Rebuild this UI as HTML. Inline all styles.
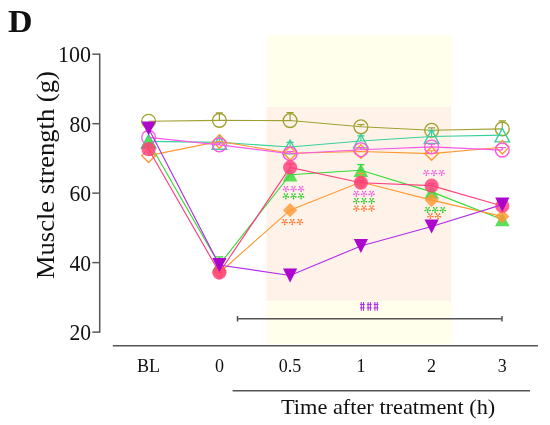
<!DOCTYPE html>
<html><head><meta charset="utf-8"><style>
html,body{margin:0;padding:0;background:#fff;width:550px;height:425px;overflow:hidden}
svg{display:block;will-change:transform}
text{font-family:"Liberation Serif",serif;fill:#111}
.tl{font-size:23.5px}
.xl{font-size:18px}
.xt{font-size:21.5px}
.yt{font-size:25px}
.D{font-size:30.6px;font-weight:bold}
</style></head><body>
<svg width="550" height="425" viewBox="0 0 550 425">
<rect x="266.5" y="35" width="184.9" height="308.8" fill="#FFFFEB"/>
<rect x="266.5" y="107" width="184.5" height="193.8" fill="#FFF3E9"/>
<path d="M99.7,53.5V332.8" stroke="#555555" stroke-width="1.5" fill="none"/>
<path d="M92.3,54.20H99.7" stroke="#555555" stroke-width="1.45"/>
<text x="91" y="62.30" text-anchor="end" class="tl" textLength="33.0" lengthAdjust="spacingAndGlyphs">100</text>
<path d="M92.3,123.68H99.7" stroke="#555555" stroke-width="1.45"/>
<text x="91" y="131.78" text-anchor="end" class="tl" textLength="21.6" lengthAdjust="spacingAndGlyphs">80</text>
<path d="M92.3,193.15H99.7" stroke="#555555" stroke-width="1.45"/>
<text x="91" y="201.25" text-anchor="end" class="tl" textLength="21.6" lengthAdjust="spacingAndGlyphs">60</text>
<path d="M92.3,262.63H99.7" stroke="#555555" stroke-width="1.45"/>
<text x="91" y="270.73" text-anchor="end" class="tl" textLength="21.6" lengthAdjust="spacingAndGlyphs">40</text>
<path d="M92.3,332.10H99.7" stroke="#555555" stroke-width="1.45"/>
<text x="91" y="340.20" text-anchor="end" class="tl" textLength="21.6" lengthAdjust="spacingAndGlyphs">20</text>
<path d="M112.8,345.8H538" stroke="#555555" stroke-width="1.6"/>
<path d="M232.6,390.8H530" stroke="#555555" stroke-width="1.6"/>
<text x="148.60" y="371.8" text-anchor="middle" class="xl">BL</text>
<text x="219.40" y="371.8" text-anchor="middle" class="xl">0</text>
<text x="290.10" y="371.8" text-anchor="middle" class="xl">0.5</text>
<text x="360.90" y="371.8" text-anchor="middle" class="xl">1</text>
<text x="431.60" y="371.8" text-anchor="middle" class="xl">2</text>
<text x="502.30" y="371.8" text-anchor="middle" class="xl">3</text>
<text x="281" y="414.1" class="xt" textLength="214.3" lengthAdjust="spacingAndGlyphs">Time after treatment (h)</text>
<text transform="translate(54,279) rotate(-90)" class="yt" textLength="207.8" lengthAdjust="spacingAndGlyphs">Muscle strength (g)</text>
<text transform="translate(7.9,31.7) scale(1.11,1)" class="D">D</text>
<path d="M237.5,318.7H502M237.5,315.9V321.6M502,315.9V321.6" stroke="#555" stroke-width="1.5" fill="none"/>
<path d="M361.25,302V310.8M363.55,302V310.8M360.05,304.40H364.75M359.95,307.90H364.65M368.10,302V310.8M370.40,302V310.8M366.90,304.40H371.60M366.80,307.90H371.50M374.95,302V310.8M377.25,302V310.8M373.75,304.40H378.45M373.65,307.90H378.35" stroke="#A820EE" stroke-width="1.0" fill="none"/>
<g><path d="M148.60,121.24 L219.40,120.37 L290.10,120.55 L360.90,126.80 L431.60,130.28 L502.30,128.89" stroke="#A0A032" stroke-width="1.15" fill="none"/><path d="M219.40,120.37V112.73M215.80,112.73H223.00" stroke="#A0A032" stroke-width="1.2" fill="none"/><path d="M290.10,120.55V112.56M286.50,112.56H293.70" stroke="#A0A032" stroke-width="1.2" fill="none"/><path d="M360.90,126.80V124.72M357.30,124.72H364.50" stroke="#A0A032" stroke-width="1.2" fill="none"/><path d="M431.60,130.28V127.84M428.00,127.84H435.20" stroke="#A0A032" stroke-width="1.2" fill="none"/><path d="M502.30,128.89V120.90M498.70,120.90H505.90" stroke="#A0A032" stroke-width="1.2" fill="none"/><circle cx="148.60" cy="121.24" r="6.9" fill="none" stroke="#A0A032" stroke-width="1.35"/><circle cx="219.40" cy="120.37" r="6.9" fill="none" stroke="#A0A032" stroke-width="1.35"/><circle cx="290.10" cy="120.55" r="6.9" fill="none" stroke="#A0A032" stroke-width="1.35"/><circle cx="360.90" cy="126.80" r="6.9" fill="none" stroke="#A0A032" stroke-width="1.35"/><circle cx="431.60" cy="130.28" r="6.9" fill="none" stroke="#A0A032" stroke-width="1.35"/><circle cx="502.30" cy="128.89" r="6.9" fill="none" stroke="#A0A032" stroke-width="1.35"/></g>
<g><path d="M148.60,141.39 L219.40,142.43 L290.10,146.95 L360.90,141.04 L431.60,136.53 L502.30,135.14" stroke="#38D09C" stroke-width="1.15" fill="none"/><path d="M219.40,142.43V138.96M215.80,138.96H223.00" stroke="#38D09C" stroke-width="1.2" fill="none"/><path d="M290.10,146.95V142.43M286.50,142.43H293.70" stroke="#38D09C" stroke-width="1.2" fill="none"/><path d="M360.90,141.04V135.83M357.30,135.83H364.50" stroke="#38D09C" stroke-width="1.2" fill="none"/><path d="M431.60,136.53V130.97M428.00,130.97H435.20" stroke="#38D09C" stroke-width="1.2" fill="none"/><polygon points="148.60,134.59 155.90,148.19 141.30,148.19" fill="none" stroke="#38D09C" stroke-width="1.35" stroke-linejoin="miter"/><polygon points="219.40,135.63 226.70,149.23 212.10,149.23" fill="none" stroke="#38D09C" stroke-width="1.35" stroke-linejoin="miter"/><polygon points="290.10,140.15 297.40,153.75 282.80,153.75" fill="none" stroke="#38D09C" stroke-width="1.35" stroke-linejoin="miter"/><polygon points="360.90,134.24 368.20,147.84 353.60,147.84" fill="none" stroke="#38D09C" stroke-width="1.35" stroke-linejoin="miter"/><polygon points="431.60,129.73 438.90,143.33 424.30,143.33" fill="none" stroke="#38D09C" stroke-width="1.35" stroke-linejoin="miter"/><polygon points="502.30,128.34 509.60,141.94 495.00,141.94" fill="none" stroke="#38D09C" stroke-width="1.35" stroke-linejoin="miter"/></g>
<g><path d="M148.60,155.63 L219.40,141.39 L290.10,153.20 L360.90,151.47 L431.60,153.55 L502.30,147.30" stroke="#FF9933" stroke-width="1.15" fill="none"/><path d="M148.60,155.63V148.69M145.00,148.69H152.20" stroke="#FF9933" stroke-width="1.2" fill="none"/><path d="M431.60,153.55V150.77M428.00,150.77H435.20" stroke="#FF9933" stroke-width="1.2" fill="none"/><polygon points="148.60,148.83 155.40,155.63 148.60,162.43 141.80,155.63" fill="none" stroke="#FF9933" stroke-width="1.35" stroke-linejoin="miter"/><polygon points="219.40,134.59 226.20,141.39 219.40,148.19 212.60,141.39" fill="none" stroke="#FF9933" stroke-width="1.35" stroke-linejoin="miter"/><polygon points="290.10,146.40 296.90,153.20 290.10,160.00 283.30,153.20" fill="none" stroke="#FF9933" stroke-width="1.35" stroke-linejoin="miter"/><polygon points="360.90,144.67 367.70,151.47 360.90,158.27 354.10,151.47" fill="none" stroke="#FF9933" stroke-width="1.35" stroke-linejoin="miter"/><polygon points="431.60,146.75 438.40,153.55 431.60,160.35 424.80,153.55" fill="none" stroke="#FF9933" stroke-width="1.35" stroke-linejoin="miter"/><polygon points="502.30,140.50 509.10,147.30 502.30,154.10 495.50,147.30" fill="none" stroke="#FF9933" stroke-width="1.35" stroke-linejoin="miter"/></g>
<g><path d="M148.60,137.40 L219.40,144.86 L290.10,153.72 L360.90,149.73 L431.60,146.95 L502.30,150.08" stroke="#FA58E6" stroke-width="1.15" fill="none"/><path d="M219.40,144.86V143.13M215.80,143.13H223.00" stroke="#FA58E6" stroke-width="1.2" fill="none"/><path d="M290.10,153.72V151.64M286.50,151.64H293.70" stroke="#FA58E6" stroke-width="1.2" fill="none"/><path d="M360.90,149.73V147.64M357.30,147.64H364.50" stroke="#FA58E6" stroke-width="1.2" fill="none"/><path d="M431.60,146.95V144.17M428.00,144.17H435.20" stroke="#FA58E6" stroke-width="1.2" fill="none"/><path d="M502.30,150.08V147.64M498.70,147.64H505.90" stroke="#FA58E6" stroke-width="1.2" fill="none"/><circle cx="148.60" cy="137.40" r="6.9" fill="none" stroke="#FA58E6" stroke-width="1.35"/><circle cx="219.40" cy="144.86" r="6.9" fill="none" stroke="#FA58E6" stroke-width="1.35"/><circle cx="290.10" cy="153.72" r="6.9" fill="none" stroke="#FA58E6" stroke-width="1.35"/><circle cx="360.90" cy="149.73" r="6.9" fill="none" stroke="#FA58E6" stroke-width="1.35"/><circle cx="431.60" cy="146.95" r="6.9" fill="none" stroke="#FA58E6" stroke-width="1.35"/><circle cx="502.30" cy="150.08" r="6.9" fill="none" stroke="#FA58E6" stroke-width="1.35"/></g>
<g><path d="M148.60,141.74 L219.40,264.71 L290.10,174.74 L360.90,170.22 L431.60,191.86 L502.30,219.55" stroke="#38D838" stroke-width="1.15" fill="none"/><path d="M219.40,264.71V256.89M215.80,256.89H223.00" stroke="#38D838" stroke-width="1.2" fill="none"/><path d="M360.90,170.22V164.67M357.30,164.67H364.50" stroke="#38D838" stroke-width="1.2" fill="none"/><polygon points="148.60,134.94 155.90,148.54 141.30,148.54" fill="#38D838" fill-opacity="0.82"/><polygon points="219.40,257.91 226.70,271.51 212.10,271.51" fill="#38D838" fill-opacity="0.82"/><polygon points="290.10,167.94 297.40,181.54 282.80,181.54" fill="#38D838" fill-opacity="0.82"/><polygon points="360.90,163.42 368.20,177.02 353.60,177.02" fill="#38D838" fill-opacity="0.82"/><polygon points="431.60,185.06 438.90,198.66 424.30,198.66" fill="#38D838" fill-opacity="0.82"/><polygon points="502.30,212.75 509.60,226.35 495.00,226.35" fill="#38D838" fill-opacity="0.82"/></g>
<g><path d="M219.40,272.70 L290.10,210.17 L360.90,182.03 L431.60,200.10 L502.30,216.42" stroke="#FF9933" stroke-width="1.15" fill="none"/><path d="M360.90,182.03V173.35M357.30,173.35H364.50" stroke="#FF9933" stroke-width="1.2" fill="none"/><polygon points="219.40,265.60 226.50,272.70 219.40,279.80 212.30,272.70" fill="#FF9933" fill-opacity="0.82"/><polygon points="290.10,203.07 297.20,210.17 290.10,217.27 283.00,210.17" fill="#FF9933" fill-opacity="0.82"/><polygon points="360.90,174.93 368.00,182.03 360.90,189.13 353.80,182.03" fill="#FF9933" fill-opacity="0.82"/><polygon points="431.60,193.00 438.70,200.10 431.60,207.20 424.50,200.10" fill="#FF9933" fill-opacity="0.82"/><polygon points="502.30,209.32 509.40,216.42 502.30,223.52 495.20,216.42" fill="#FF9933" fill-opacity="0.82"/></g>
<g><path d="M148.60,149.21 L219.40,272.53 L290.10,167.44 L360.90,182.73 L431.60,185.68 L502.30,206.00" stroke="#FF3F7C" stroke-width="1.15" fill="none"/><path d="M148.60,149.21V145.04M145.00,145.04H152.20" stroke="#FF3F7C" stroke-width="1.2" fill="none"/><path d="M290.10,167.44V163.97M286.50,163.97H293.70" stroke="#FF3F7C" stroke-width="1.2" fill="none"/><path d="M360.90,182.73V180.64M357.30,180.64H364.50" stroke="#FF3F7C" stroke-width="1.2" fill="none"/><path d="M431.60,185.68V183.60M428.00,183.60H435.20" stroke="#FF3F7C" stroke-width="1.2" fill="none"/><circle cx="148.60" cy="149.21" r="7.1" fill="#FF3F7C" fill-opacity="0.82"/><circle cx="219.40" cy="272.53" r="7.1" fill="#FF3F7C" fill-opacity="0.82"/><circle cx="290.10" cy="167.44" r="7.1" fill="#FF3F7C" fill-opacity="0.82"/><circle cx="360.90" cy="182.73" r="7.1" fill="#FF3F7C" fill-opacity="0.82"/><circle cx="431.60" cy="185.68" r="7.1" fill="#FF3F7C" fill-opacity="0.82"/><circle cx="502.30" cy="206.00" r="7.1" fill="#FF3F7C" fill-opacity="0.82"/></g>
<g><path d="M148.60,128.54 L219.40,265.06 L290.10,275.48 L360.90,245.95 L431.60,226.50 L502.30,204.61" stroke="#B22EE6" stroke-width="1.15" fill="none"/><polygon points="141.50,121.49 155.70,121.49 148.60,135.59" fill="#AA00CC" fill-opacity="0.97"/><polygon points="212.30,258.01 226.50,258.01 219.40,272.11" fill="#AA00CC" fill-opacity="0.97"/><polygon points="283.00,268.43 297.20,268.43 290.10,282.53" fill="#AA00CC" fill-opacity="0.97"/><polygon points="353.80,238.90 368.00,238.90 360.90,253.00" fill="#AA00CC" fill-opacity="0.97"/><polygon points="424.50,219.45 438.70,219.45 431.60,233.55" fill="#AA00CC" fill-opacity="0.97"/><polygon points="495.20,197.56 509.40,197.56 502.30,211.66" fill="#AA00CC" fill-opacity="0.97"/></g>
<path d="M285.90,188.80L285.90,191.40M285.90,188.80L283.43,189.60M285.90,188.80L284.37,186.70M285.90,188.80L287.43,186.70M285.90,188.80L288.37,189.60" stroke="#F05ADF" stroke-width="1.0" stroke-opacity="0.75" fill="none"/><circle cx="285.90" cy="191.40" r="0.8" fill="#F05ADF"/><circle cx="283.43" cy="189.60" r="0.8" fill="#F05ADF"/><circle cx="284.37" cy="186.70" r="0.8" fill="#F05ADF"/><circle cx="287.43" cy="186.70" r="0.8" fill="#F05ADF"/><circle cx="288.37" cy="189.60" r="0.8" fill="#F05ADF"/><path d="M293.50,188.80L293.50,191.40M293.50,188.80L291.03,189.60M293.50,188.80L291.97,186.70M293.50,188.80L295.03,186.70M293.50,188.80L295.97,189.60" stroke="#F05ADF" stroke-width="1.0" stroke-opacity="0.75" fill="none"/><circle cx="293.50" cy="191.40" r="0.8" fill="#F05ADF"/><circle cx="291.03" cy="189.60" r="0.8" fill="#F05ADF"/><circle cx="291.97" cy="186.70" r="0.8" fill="#F05ADF"/><circle cx="295.03" cy="186.70" r="0.8" fill="#F05ADF"/><circle cx="295.97" cy="189.60" r="0.8" fill="#F05ADF"/><path d="M301.10,188.80L301.10,191.40M301.10,188.80L298.63,189.60M301.10,188.80L299.57,186.70M301.10,188.80L302.63,186.70M301.10,188.80L303.57,189.60" stroke="#F05ADF" stroke-width="1.0" stroke-opacity="0.75" fill="none"/><circle cx="301.10" cy="191.40" r="0.8" fill="#F05ADF"/><circle cx="298.63" cy="189.60" r="0.8" fill="#F05ADF"/><circle cx="299.57" cy="186.70" r="0.8" fill="#F05ADF"/><circle cx="302.63" cy="186.70" r="0.8" fill="#F05ADF"/><circle cx="303.57" cy="189.60" r="0.8" fill="#F05ADF"/>
<path d="M285.90,196.20L285.90,198.80M285.90,196.20L283.43,197.00M285.90,196.20L284.37,194.10M285.90,196.20L287.43,194.10M285.90,196.20L288.37,197.00" stroke="#22C822" stroke-width="1.0" stroke-opacity="0.75" fill="none"/><circle cx="285.90" cy="198.80" r="0.8" fill="#22C822"/><circle cx="283.43" cy="197.00" r="0.8" fill="#22C822"/><circle cx="284.37" cy="194.10" r="0.8" fill="#22C822"/><circle cx="287.43" cy="194.10" r="0.8" fill="#22C822"/><circle cx="288.37" cy="197.00" r="0.8" fill="#22C822"/><path d="M293.50,196.20L293.50,198.80M293.50,196.20L291.03,197.00M293.50,196.20L291.97,194.10M293.50,196.20L295.03,194.10M293.50,196.20L295.97,197.00" stroke="#22C822" stroke-width="1.0" stroke-opacity="0.75" fill="none"/><circle cx="293.50" cy="198.80" r="0.8" fill="#22C822"/><circle cx="291.03" cy="197.00" r="0.8" fill="#22C822"/><circle cx="291.97" cy="194.10" r="0.8" fill="#22C822"/><circle cx="295.03" cy="194.10" r="0.8" fill="#22C822"/><circle cx="295.97" cy="197.00" r="0.8" fill="#22C822"/><path d="M301.10,196.20L301.10,198.80M301.10,196.20L298.63,197.00M301.10,196.20L299.57,194.10M301.10,196.20L302.63,194.10M301.10,196.20L303.57,197.00" stroke="#22C822" stroke-width="1.0" stroke-opacity="0.75" fill="none"/><circle cx="301.10" cy="198.80" r="0.8" fill="#22C822"/><circle cx="298.63" cy="197.00" r="0.8" fill="#22C822"/><circle cx="299.57" cy="194.10" r="0.8" fill="#22C822"/><circle cx="302.63" cy="194.10" r="0.8" fill="#22C822"/><circle cx="303.57" cy="197.00" r="0.8" fill="#22C822"/>
<path d="M284.70,221.80L284.70,224.40M284.70,221.80L282.23,222.60M284.70,221.80L283.17,219.70M284.70,221.80L286.23,219.70M284.70,221.80L287.17,222.60" stroke="#FF6F2A" stroke-width="1.0" stroke-opacity="0.75" fill="none"/><circle cx="284.70" cy="224.40" r="0.8" fill="#FF6F2A"/><circle cx="282.23" cy="222.60" r="0.8" fill="#FF6F2A"/><circle cx="283.17" cy="219.70" r="0.8" fill="#FF6F2A"/><circle cx="286.23" cy="219.70" r="0.8" fill="#FF6F2A"/><circle cx="287.17" cy="222.60" r="0.8" fill="#FF6F2A"/><path d="M292.30,221.80L292.30,224.40M292.30,221.80L289.83,222.60M292.30,221.80L290.77,219.70M292.30,221.80L293.83,219.70M292.30,221.80L294.77,222.60" stroke="#FF6F2A" stroke-width="1.0" stroke-opacity="0.75" fill="none"/><circle cx="292.30" cy="224.40" r="0.8" fill="#FF6F2A"/><circle cx="289.83" cy="222.60" r="0.8" fill="#FF6F2A"/><circle cx="290.77" cy="219.70" r="0.8" fill="#FF6F2A"/><circle cx="293.83" cy="219.70" r="0.8" fill="#FF6F2A"/><circle cx="294.77" cy="222.60" r="0.8" fill="#FF6F2A"/><path d="M299.90,221.80L299.90,224.40M299.90,221.80L297.43,222.60M299.90,221.80L298.37,219.70M299.90,221.80L301.43,219.70M299.90,221.80L302.37,222.60" stroke="#FF6F2A" stroke-width="1.0" stroke-opacity="0.75" fill="none"/><circle cx="299.90" cy="224.40" r="0.8" fill="#FF6F2A"/><circle cx="297.43" cy="222.60" r="0.8" fill="#FF6F2A"/><circle cx="298.37" cy="219.70" r="0.8" fill="#FF6F2A"/><circle cx="301.43" cy="219.70" r="0.8" fill="#FF6F2A"/><circle cx="302.37" cy="222.60" r="0.8" fill="#FF6F2A"/>
<path d="M356.40,193.60L356.40,196.20M356.40,193.60L353.93,194.40M356.40,193.60L354.87,191.50M356.40,193.60L357.93,191.50M356.40,193.60L358.87,194.40" stroke="#F05ADF" stroke-width="1.0" stroke-opacity="0.75" fill="none"/><circle cx="356.40" cy="196.20" r="0.8" fill="#F05ADF"/><circle cx="353.93" cy="194.40" r="0.8" fill="#F05ADF"/><circle cx="354.87" cy="191.50" r="0.8" fill="#F05ADF"/><circle cx="357.93" cy="191.50" r="0.8" fill="#F05ADF"/><circle cx="358.87" cy="194.40" r="0.8" fill="#F05ADF"/><path d="M364.00,193.60L364.00,196.20M364.00,193.60L361.53,194.40M364.00,193.60L362.47,191.50M364.00,193.60L365.53,191.50M364.00,193.60L366.47,194.40" stroke="#F05ADF" stroke-width="1.0" stroke-opacity="0.75" fill="none"/><circle cx="364.00" cy="196.20" r="0.8" fill="#F05ADF"/><circle cx="361.53" cy="194.40" r="0.8" fill="#F05ADF"/><circle cx="362.47" cy="191.50" r="0.8" fill="#F05ADF"/><circle cx="365.53" cy="191.50" r="0.8" fill="#F05ADF"/><circle cx="366.47" cy="194.40" r="0.8" fill="#F05ADF"/><path d="M371.60,193.60L371.60,196.20M371.60,193.60L369.13,194.40M371.60,193.60L370.07,191.50M371.60,193.60L373.13,191.50M371.60,193.60L374.07,194.40" stroke="#F05ADF" stroke-width="1.0" stroke-opacity="0.75" fill="none"/><circle cx="371.60" cy="196.20" r="0.8" fill="#F05ADF"/><circle cx="369.13" cy="194.40" r="0.8" fill="#F05ADF"/><circle cx="370.07" cy="191.50" r="0.8" fill="#F05ADF"/><circle cx="373.13" cy="191.50" r="0.8" fill="#F05ADF"/><circle cx="374.07" cy="194.40" r="0.8" fill="#F05ADF"/>
<path d="M356.40,200.90L356.40,203.50M356.40,200.90L353.93,201.70M356.40,200.90L354.87,198.80M356.40,200.90L357.93,198.80M356.40,200.90L358.87,201.70" stroke="#22C822" stroke-width="1.0" stroke-opacity="0.75" fill="none"/><circle cx="356.40" cy="203.50" r="0.8" fill="#22C822"/><circle cx="353.93" cy="201.70" r="0.8" fill="#22C822"/><circle cx="354.87" cy="198.80" r="0.8" fill="#22C822"/><circle cx="357.93" cy="198.80" r="0.8" fill="#22C822"/><circle cx="358.87" cy="201.70" r="0.8" fill="#22C822"/><path d="M364.00,200.90L364.00,203.50M364.00,200.90L361.53,201.70M364.00,200.90L362.47,198.80M364.00,200.90L365.53,198.80M364.00,200.90L366.47,201.70" stroke="#22C822" stroke-width="1.0" stroke-opacity="0.75" fill="none"/><circle cx="364.00" cy="203.50" r="0.8" fill="#22C822"/><circle cx="361.53" cy="201.70" r="0.8" fill="#22C822"/><circle cx="362.47" cy="198.80" r="0.8" fill="#22C822"/><circle cx="365.53" cy="198.80" r="0.8" fill="#22C822"/><circle cx="366.47" cy="201.70" r="0.8" fill="#22C822"/><path d="M371.60,200.90L371.60,203.50M371.60,200.90L369.13,201.70M371.60,200.90L370.07,198.80M371.60,200.90L373.13,198.80M371.60,200.90L374.07,201.70" stroke="#22C822" stroke-width="1.0" stroke-opacity="0.75" fill="none"/><circle cx="371.60" cy="203.50" r="0.8" fill="#22C822"/><circle cx="369.13" cy="201.70" r="0.8" fill="#22C822"/><circle cx="370.07" cy="198.80" r="0.8" fill="#22C822"/><circle cx="373.13" cy="198.80" r="0.8" fill="#22C822"/><circle cx="374.07" cy="201.70" r="0.8" fill="#22C822"/>
<path d="M356.40,208.40L356.40,211.00M356.40,208.40L353.93,209.20M356.40,208.40L354.87,206.30M356.40,208.40L357.93,206.30M356.40,208.40L358.87,209.20" stroke="#FF6F2A" stroke-width="1.0" stroke-opacity="0.75" fill="none"/><circle cx="356.40" cy="211.00" r="0.8" fill="#FF6F2A"/><circle cx="353.93" cy="209.20" r="0.8" fill="#FF6F2A"/><circle cx="354.87" cy="206.30" r="0.8" fill="#FF6F2A"/><circle cx="357.93" cy="206.30" r="0.8" fill="#FF6F2A"/><circle cx="358.87" cy="209.20" r="0.8" fill="#FF6F2A"/><path d="M364.00,208.40L364.00,211.00M364.00,208.40L361.53,209.20M364.00,208.40L362.47,206.30M364.00,208.40L365.53,206.30M364.00,208.40L366.47,209.20" stroke="#FF6F2A" stroke-width="1.0" stroke-opacity="0.75" fill="none"/><circle cx="364.00" cy="211.00" r="0.8" fill="#FF6F2A"/><circle cx="361.53" cy="209.20" r="0.8" fill="#FF6F2A"/><circle cx="362.47" cy="206.30" r="0.8" fill="#FF6F2A"/><circle cx="365.53" cy="206.30" r="0.8" fill="#FF6F2A"/><circle cx="366.47" cy="209.20" r="0.8" fill="#FF6F2A"/><path d="M371.60,208.40L371.60,211.00M371.60,208.40L369.13,209.20M371.60,208.40L370.07,206.30M371.60,208.40L373.13,206.30M371.60,208.40L374.07,209.20" stroke="#FF6F2A" stroke-width="1.0" stroke-opacity="0.75" fill="none"/><circle cx="371.60" cy="211.00" r="0.8" fill="#FF6F2A"/><circle cx="369.13" cy="209.20" r="0.8" fill="#FF6F2A"/><circle cx="370.07" cy="206.30" r="0.8" fill="#FF6F2A"/><circle cx="373.13" cy="206.30" r="0.8" fill="#FF6F2A"/><circle cx="374.07" cy="209.20" r="0.8" fill="#FF6F2A"/>
<path d="M426.40,172.80L426.40,175.40M426.40,172.80L423.93,173.60M426.40,172.80L424.87,170.70M426.40,172.80L427.93,170.70M426.40,172.80L428.87,173.60" stroke="#F05ADF" stroke-width="1.0" stroke-opacity="0.75" fill="none"/><circle cx="426.40" cy="175.40" r="0.8" fill="#F05ADF"/><circle cx="423.93" cy="173.60" r="0.8" fill="#F05ADF"/><circle cx="424.87" cy="170.70" r="0.8" fill="#F05ADF"/><circle cx="427.93" cy="170.70" r="0.8" fill="#F05ADF"/><circle cx="428.87" cy="173.60" r="0.8" fill="#F05ADF"/><path d="M434.00,172.80L434.00,175.40M434.00,172.80L431.53,173.60M434.00,172.80L432.47,170.70M434.00,172.80L435.53,170.70M434.00,172.80L436.47,173.60" stroke="#F05ADF" stroke-width="1.0" stroke-opacity="0.75" fill="none"/><circle cx="434.00" cy="175.40" r="0.8" fill="#F05ADF"/><circle cx="431.53" cy="173.60" r="0.8" fill="#F05ADF"/><circle cx="432.47" cy="170.70" r="0.8" fill="#F05ADF"/><circle cx="435.53" cy="170.70" r="0.8" fill="#F05ADF"/><circle cx="436.47" cy="173.60" r="0.8" fill="#F05ADF"/><path d="M441.60,172.80L441.60,175.40M441.60,172.80L439.13,173.60M441.60,172.80L440.07,170.70M441.60,172.80L443.13,170.70M441.60,172.80L444.07,173.60" stroke="#F05ADF" stroke-width="1.0" stroke-opacity="0.75" fill="none"/><circle cx="441.60" cy="175.40" r="0.8" fill="#F05ADF"/><circle cx="439.13" cy="173.60" r="0.8" fill="#F05ADF"/><circle cx="440.07" cy="170.70" r="0.8" fill="#F05ADF"/><circle cx="443.13" cy="170.70" r="0.8" fill="#F05ADF"/><circle cx="444.07" cy="173.60" r="0.8" fill="#F05ADF"/>
<path d="M427.60,209.80L427.60,212.40M427.60,209.80L425.13,210.60M427.60,209.80L426.07,207.70M427.60,209.80L429.13,207.70M427.60,209.80L430.07,210.60" stroke="#22C822" stroke-width="1.0" stroke-opacity="0.75" fill="none"/><circle cx="427.60" cy="212.40" r="0.8" fill="#22C822"/><circle cx="425.13" cy="210.60" r="0.8" fill="#22C822"/><circle cx="426.07" cy="207.70" r="0.8" fill="#22C822"/><circle cx="429.13" cy="207.70" r="0.8" fill="#22C822"/><circle cx="430.07" cy="210.60" r="0.8" fill="#22C822"/><path d="M435.20,209.80L435.20,212.40M435.20,209.80L432.73,210.60M435.20,209.80L433.67,207.70M435.20,209.80L436.73,207.70M435.20,209.80L437.67,210.60" stroke="#22C822" stroke-width="1.0" stroke-opacity="0.75" fill="none"/><circle cx="435.20" cy="212.40" r="0.8" fill="#22C822"/><circle cx="432.73" cy="210.60" r="0.8" fill="#22C822"/><circle cx="433.67" cy="207.70" r="0.8" fill="#22C822"/><circle cx="436.73" cy="207.70" r="0.8" fill="#22C822"/><circle cx="437.67" cy="210.60" r="0.8" fill="#22C822"/><path d="M442.80,209.80L442.80,212.40M442.80,209.80L440.33,210.60M442.80,209.80L441.27,207.70M442.80,209.80L444.33,207.70M442.80,209.80L445.27,210.60" stroke="#22C822" stroke-width="1.0" stroke-opacity="0.75" fill="none"/><circle cx="442.80" cy="212.40" r="0.8" fill="#22C822"/><circle cx="440.33" cy="210.60" r="0.8" fill="#22C822"/><circle cx="441.27" cy="207.70" r="0.8" fill="#22C822"/><circle cx="444.33" cy="207.70" r="0.8" fill="#22C822"/><circle cx="445.27" cy="210.60" r="0.8" fill="#22C822"/>
<path d="M430.40,216.00L430.40,218.60M430.40,216.00L427.93,216.80M430.40,216.00L428.87,213.90M430.40,216.00L431.93,213.90M430.40,216.00L432.87,216.80" stroke="#FF6F2A" stroke-width="1.0" stroke-opacity="0.75" fill="none"/><circle cx="430.40" cy="218.60" r="0.8" fill="#FF6F2A"/><circle cx="427.93" cy="216.80" r="0.8" fill="#FF6F2A"/><circle cx="428.87" cy="213.90" r="0.8" fill="#FF6F2A"/><circle cx="431.93" cy="213.90" r="0.8" fill="#FF6F2A"/><circle cx="432.87" cy="216.80" r="0.8" fill="#FF6F2A"/><path d="M438.00,216.00L438.00,218.60M438.00,216.00L435.53,216.80M438.00,216.00L436.47,213.90M438.00,216.00L439.53,213.90M438.00,216.00L440.47,216.80" stroke="#FF6F2A" stroke-width="1.0" stroke-opacity="0.75" fill="none"/><circle cx="438.00" cy="218.60" r="0.8" fill="#FF6F2A"/><circle cx="435.53" cy="216.80" r="0.8" fill="#FF6F2A"/><circle cx="436.47" cy="213.90" r="0.8" fill="#FF6F2A"/><circle cx="439.53" cy="213.90" r="0.8" fill="#FF6F2A"/><circle cx="440.47" cy="216.80" r="0.8" fill="#FF6F2A"/>
</svg>
</body></html>
